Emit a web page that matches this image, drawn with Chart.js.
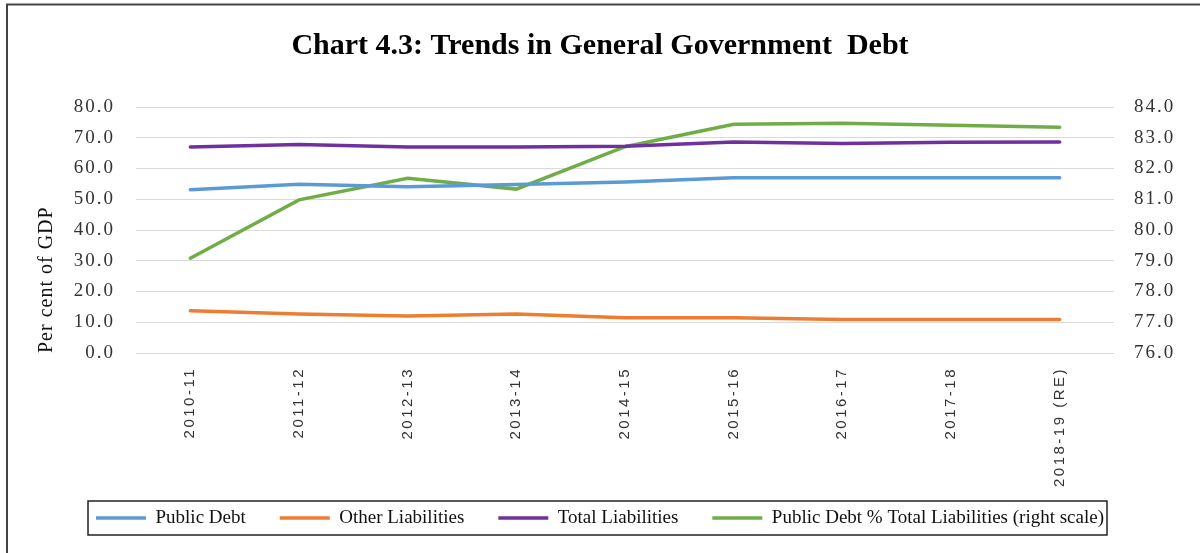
<!DOCTYPE html>
<html>
<head>
<meta charset="utf-8">
<script src="https://cdn.jsdelivr.net/npm/chart.js@4/dist/chart.umd.min.js"></script>
<style>
  body { margin: 0; background: #fff; }
  #wrap { width: 1200px; height: 553px; }
</style>
</head>
<body>
<div id="wrap"><canvas id="debtChart" width="1200" height="553"></canvas></div>
<script>
// Fiscal years on the category axis
const years = ['2010-11', '2011-12', '2012-13', '2013-14', '2014-15', '2015-16', '2016-17', '2017-18', '2018-19 (RE)'];

// Left scale, per cent of GDP
const publicDebt = [53.1, 54.9, 54.1, 54.8, 55.6, 57.0, 57.0, 57.0, 57.0];
const otherLiabilities = [13.7, 12.7, 12.0, 12.7, 11.5, 11.5, 10.9, 10.9, 10.9];
const totalLiabilities = [67.0, 67.8, 67.0, 67.0, 67.2, 68.6, 68.1, 68.5, 68.6];

// Right scale, public debt as share of total liabilities
const debtShare = [79.08, 80.98, 81.68, 81.33, 82.71, 83.44, 83.47, 83.41, 83.34];

const colors = ['#5b9bd5', '#ed7d31', '#7030a0', '#70ad47'];
const serif = "'Liberation Serif', 'Times New Roman', serif";

// wrap a scale draw method so its text gets some letter spacing
function spaced(scale, method, px) {
    const orig = scale[method];
    scale[method] = function (area) {
        const c = this.ctx;
        c.save();
        c.letterSpacing = px;
        orig.call(this, area);
        c.restore();
    };
}

const framePlugin = {
    id: 'framePlugin',
    beforeDraw(chart) {
        const s = chart.scales;
        if (!s.x._patched) {
            spaced(s.x, 'drawLabels', '2.5px');
            // long rotated labels run past the axis box, don't clip them
            s.x._computeLabelArea = () => undefined;
            spaced(s.y, 'drawLabels', '2px');
            spaced(s.y, 'drawTitle', '1px');
            spaced(s.y1, 'drawLabels', '2px');
            s.x._patched = true;
        }
    },
    afterDraw(chart) {
        const ctx = chart.ctx;
        ctx.save();
        // frame around the figure
        ctx.strokeStyle = '#444';
        ctx.lineWidth = 2;
        ctx.beginPath();
        ctx.moveTo(7, 553);
        ctx.lineTo(7, 4.5);
        ctx.lineTo(1200, 4.5);
        ctx.stroke();

        // box around the legend entries
        const boxes = chart.legend.legendHitBoxes;
        if (boxes && boxes.length) {
            const first = boxes[0];
            const last = boxes[boxes.length - 1];
            const cy = first.top + first.height / 2;
            ctx.strokeStyle = '#222';
            ctx.lineWidth = 1.5;
            ctx.strokeRect(first.left - 8, cy - 17, last.left + last.width + 3 - (first.left - 8), 34);
        }
        ctx.restore();
    }
};

const ctx = document.getElementById('debtChart').getContext('2d');
const debtChart = new Chart(ctx, {
    type: 'line',
    data: {
        labels: years,
        datasets: [{
            label: 'Public Debt',
            data: publicDebt,
            borderColor: colors[0],
            pointBorderColor: colors[0],
            yAxisID: 'y'
        }, {
            label: 'Other Liabilities',
            data: otherLiabilities,
            borderColor: colors[1],
            pointBorderColor: colors[1],
            yAxisID: 'y'
        }, {
            label: 'Total Liabilities',
            data: totalLiabilities,
            borderColor: colors[2],
            pointBorderColor: colors[2],
            yAxisID: 'y'
        }, {
            label: 'Public Debt % Total Liabilities (right scale)',
            data: debtShare,
            borderColor: colors[3],
            pointBorderColor: colors[3],
            yAxisID: 'y1'
        }]
    },
    options: {
        responsive: false,
        animation: false,
        layout: { padding: { left: 0, right: 0, top: 0, bottom: 15.5 } },
        elements: {
            line: { borderWidth: 3.5, tension: 0, borderCapStyle: 'round' },
            point: { radius: 0, borderWidth: 3.5 }
        },
        scales: {
            x: {
                offset: true,
                grid: { display: false, drawTicks: false },
                border: { display: false },
                ticks: {
                    minRotation: 90,
                    maxRotation: 90,
                    padding: 14,
                    color: '#333',
                    font: { family: "'Liberation Sans', Arial, sans-serif", size: 15 }
                },
                afterFit(scale) { scale.height = 121.5; }
            },
            y: {
                position: 'left',
                min: 0,
                max: 80,
                grid: { color: '#d9d9d9', lineWidth: 1, drawTicks: false },
                border: { display: false },
                ticks: {
                    stepSize: 10,
                    padding: 21,
                    color: '#333',
                    font: { family: serif, size: 19 },
                    callback: v => v.toFixed(1)
                },
                title: {
                    display: true,
                    text: 'Per cent of GDP',
                    align: 'start',
                    color: '#111',
                    padding: { top: 35, bottom: 0 },
                    font: { family: serif, size: 20 }
                },
                afterFit(scale) { scale.width = 136; }
            },
            y1: {
                position: 'right',
                min: 76,
                max: 84,
                grid: { display: false, drawTicks: false },
                border: { display: false },
                ticks: {
                    stepSize: 1,
                    padding: 20,
                    color: '#333',
                    font: { family: serif, size: 19 },
                    callback: v => v.toFixed(1)
                },
                afterFit(scale) { scale.width = 86; }
            }
        },
        plugins: {
            title: {
                display: true,
                text: 'Chart 4.3: Trends in General Government  Debt',
                color: '#000',
                padding: { top: 28.5, bottom: 42.5 },
                font: { family: serif, size: 30, weight: 'bold' }
            },
            legend: {
                position: 'bottom',
                labels: {
                    usePointStyle: true,
                    pointStyle: 'line',
                    pointStyleWidth: 50,
                    padding: 34,
                    color: '#111',
                    font: { family: serif, size: 19 }
                }
            },
            tooltip: { enabled: false }
        }
    },
    plugins: [framePlugin]
});
</script>
</body>
</html>
